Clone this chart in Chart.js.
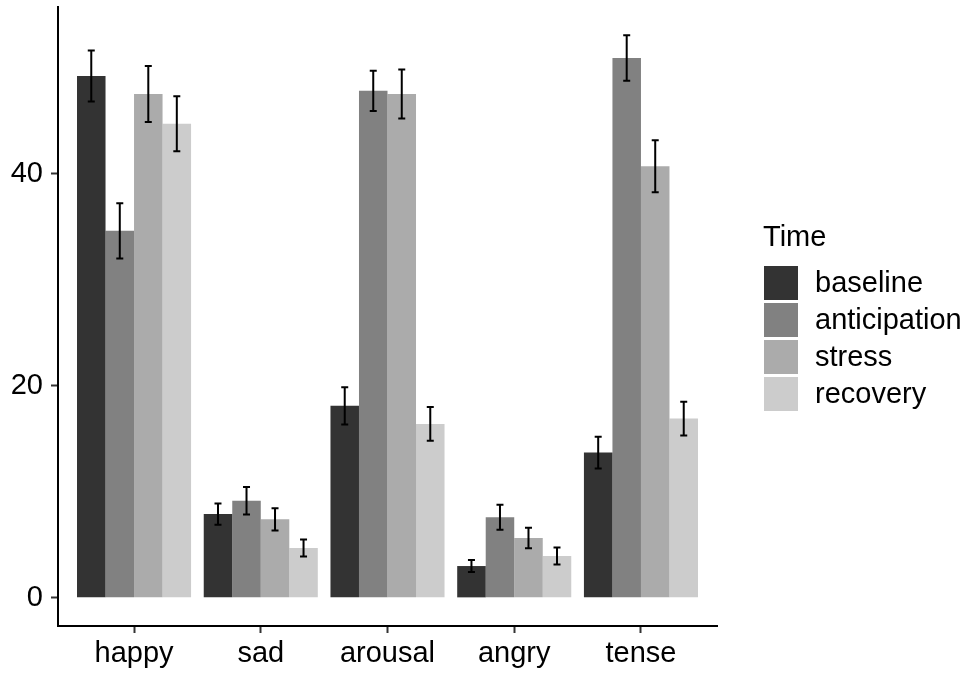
<!DOCTYPE html>
<html>
<head>
<meta charset="utf-8">
<script src="https://cdn.jsdelivr.net/npm/chart.js@4"></script>
<style>
  html, body { margin: 0; padding: 0; background: #ffffff; }
  #wrap { position: relative; width: 969px; height: 673px; }
</style>
</head>
<body>
<div id="wrap"><canvas id="c" width="969" height="673"></canvas></div>
<script>
const categories = ["happy", "sad", "arousal", "angry", "tense"];
const seriesNames = ["baseline", "anticipation", "stress", "recovery"];
const seriesColors = ["#333333", "#818181", "#ABABAB", "#CCCCCC"];
const legendTitle = "Time";
const yTicks = [0, 20, 40];

const baseline     = [49.2, 7.9, 18.1, 3.0, 13.7];
const anticipation = [34.6, 9.15, 47.8, 7.6, 50.9];
const stress       = [47.5, 7.4, 47.5, 5.65, 40.7];
const recovery     = [44.7, 4.7, 16.4, 3.95, 16.9];

const baselineErr     = [2.4, 1.0, 1.75, 0.57, 1.5];
const anticipationErr = [2.6, 1.3, 1.9, 1.18, 2.15];
const stressErr       = [2.65, 1.05, 2.3, 0.97, 2.45];
const recoveryErr     = [2.6, 0.8, 1.6, 0.8, 1.6];

const seriesValues = [baseline, anticipation, stress, recovery];
const seriesErrors = [baselineErr, anticipationErr, stressErr, recoveryErr];

const FONT = "'Liberation Sans', Arial, Helvetica, sans-serif";
const FS = 29;

// y range with ggplot-style 5% expansion around [0, max error top]
let dataTop = 0;
seriesValues.forEach((vals, s) => vals.forEach((v, i) => { dataTop = Math.max(dataTop, v + seriesErrors[s][i]); }));
const yMin = -0.05 * dataTop;
const yMax = dataTop * 1.05;

const datasets = seriesNames.map((name, s) => ({
  label: name,
  data: seriesValues[s].map((v, i) => ({ x: i + 1, y: v })),
  backgroundColor: seriesColors[s],
  borderWidth: 0,
  barPercentage: 1.0,
  categoryPercentage: 0.9,
  errors: seriesErrors[s]
}));

const errorBars = {
  id: 'errorBars',
  afterDatasetsDraw(chart) {
    const ctx = chart.ctx;
    const ys = chart.scales.y;
    ctx.save();
    ctx.strokeStyle = '#000000';
    ctx.lineWidth = 2;
    const cap = 3.5;
    chart.data.datasets.forEach((ds, d) => {
      const meta = chart.getDatasetMeta(d);
      meta.data.forEach((bar, i) => {
        const v = ds.data[i].y, e = ds.errors[i];
        const x = bar.x;
        const y1 = ys.getPixelForValue(v + e);
        const y2 = ys.getPixelForValue(v - e);
        ctx.beginPath();
        ctx.moveTo(x, y1); ctx.lineTo(x, y2);
        ctx.moveTo(x - cap, y1); ctx.lineTo(x + cap, y1);
        ctx.moveTo(x - cap, y2); ctx.lineTo(x + cap, y2);
        ctx.stroke();
      });
    });
    ctx.restore();
  }
};

const sideLegend = {
  id: 'sideLegend',
  afterDraw(chart) {
    const ctx = chart.ctx;
    ctx.save();
    ctx.fillStyle = '#000000';
    ctx.font = FS + 'px ' + FONT;
    ctx.textBaseline = 'middle';
    ctx.textAlign = 'left';
    ctx.fillText(legendTitle, 763, 238);
    const x0 = 764, w = 34, h = 34, pitch = 37, y0 = 266;
    chart.data.datasets.forEach((ds, s) => {
      const y = y0 + s * pitch;
      ctx.fillStyle = ds.backgroundColor;
      ctx.fillRect(x0, y, w, h);
      ctx.fillStyle = '#000000';
      ctx.fillText(ds.label, 815, y + h / 2 + 1);
    });
    ctx.restore();
  }
};

new Chart(document.getElementById('c'), {
  type: 'bar',
  data: { datasets },
  options: {
    responsive: false,
    animation: false,
    devicePixelRatio: 1,
    layout: { padding: { top: 7, right: 252, left: 0, bottom: 0 } },
    plugins: { legend: { display: false }, tooltip: { enabled: false } },
    scales: {
      x: {
        type: 'linear',
        min: 0.4,
        max: 5.6,
        offset: false,
        afterBuildTicks(scale) { scale.ticks = categories.map((c, i) => ({ value: i + 1 })); },
        afterFit(scale) { scale.height = 47; scale.paddingLeft = 0; scale.paddingRight = 0; },
        ticks: {
          callback: (v) => categories[Math.round(v) - 1],
          color: '#000000',
          font: { family: FONT, size: FS },
          padding: 4,
          maxRotation: 0,
          autoSkip: false
        },
        grid: {
          display: true, drawOnChartArea: false, drawTicks: true, offset: false,
          tickLength: 7, tickColor: '#333333', tickWidth: 2
        },
        border: { display: true, color: '#000000', width: 2 }
      },
      y: {
        min: yMin,
        max: yMax,
        afterBuildTicks(scale) { scale.ticks = yTicks.map(v => ({ value: v })); },
        afterFit(scale) { scale.width = 58; scale.paddingTop = 0; scale.paddingBottom = 0; },
        ticks: {
          callback: (v) => String(v),
          color: '#000000',
          font: { family: FONT, size: FS },
          padding: 8
        },
        grid: {
          display: true, drawOnChartArea: false, drawTicks: true,
          tickLength: 7, tickColor: '#333333', tickWidth: 2
        },
        border: { display: true, color: '#000000', width: 2 }
      }
    }
  },
  plugins: [errorBars, sideLegend]
});
</script>
</body>
</html>
